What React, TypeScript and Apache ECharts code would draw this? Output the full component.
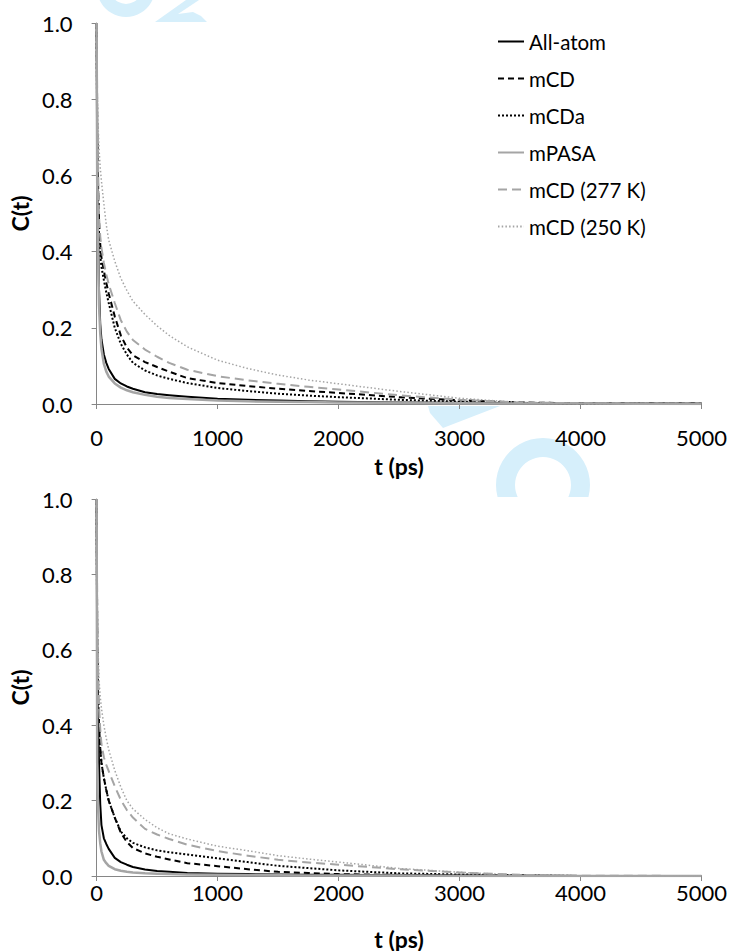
import React, { useEffect, useRef } from "react";
import * as echarts from "echarts";

// time points (ps)
const T = [0, 5, 10, 20, 30, 40, 60, 80, 100, 150, 200, 250, 300, 400, 500, 600, 750, 1000, 1250, 1500, 1750, 2000, 2500, 3000, 3500, 4000, 5000];

const SERIES_NAMES = ["All-atom", "mCD", "mCDa", "mPASA", "mCD (277 K)", "mCD (250 K)"];

// top panel
const allAtomTop = [1, 0.62, 0.5, 0.3, 0.21, 0.17, 0.13, 0.108, 0.092, 0.066, 0.054, 0.046, 0.04, 0.031, 0.026, 0.023, 0.019, 0.014, 0.011, 0.009, 0.007, 0.006, 0.004, 0.003, 0.002, 0.001, 0.001];
const mCDTop = [1, 0.72, 0.6, 0.48, 0.42, 0.385, 0.35, 0.318, 0.29, 0.23, 0.18, 0.148, 0.128, 0.11, 0.097, 0.085, 0.068, 0.055, 0.047, 0.04, 0.034, 0.029, 0.018, 0.01, 0.004, 0.002, 0.001];
const mCDaTop = [1, 0.7, 0.58, 0.45, 0.39, 0.36, 0.325, 0.293, 0.265, 0.2, 0.158, 0.13, 0.108, 0.088, 0.075, 0.066, 0.055, 0.042, 0.034, 0.027, 0.022, 0.018, 0.011, 0.006, 0.003, 0.001, 0];
const mPASATop = [1, 0.58, 0.45, 0.26, 0.185, 0.145, 0.105, 0.085, 0.072, 0.054, 0.043, 0.036, 0.031, 0.024, 0.019, 0.016, 0.013, 0.009, 0.007, 0.006, 0.005, 0.004, 0.003, 0.002, 0.001, 0.001, 0];
const mCD277Top = [1, 0.78, 0.65, 0.49, 0.44, 0.41, 0.37, 0.34, 0.315, 0.265, 0.22, 0.19, 0.168, 0.143, 0.124, 0.108, 0.09, 0.073, 0.062, 0.053, 0.045, 0.038, 0.023, 0.011, 0.004, 0.002, 0.001];
const mCD250Top = [1, 0.82, 0.75, 0.67, 0.62, 0.585, 0.525, 0.47, 0.43, 0.375, 0.33, 0.298, 0.27, 0.235, 0.205, 0.18, 0.15, 0.115, 0.093, 0.076, 0.063, 0.053, 0.033, 0.015, 0.004, 0.001, 0];

// bottom panel
const allAtomBot = [1, 0.55, 0.45, 0.3, 0.19, 0.135, 0.1, 0.085, 0.072, 0.048, 0.037, 0.03, 0.024, 0.017, 0.013, 0.011, 0.008, 0.006, 0.005, 0.004, 0.0035, 0.003, 0.002, 0.001, 0.001, 0, 0];
const mCDBot = [1, 0.62, 0.5, 0.4, 0.34, 0.3, 0.26, 0.228, 0.2, 0.155, 0.115, 0.09, 0.074, 0.06, 0.051, 0.044, 0.034, 0.026, 0.018, 0.011, 0.008, 0.005, 0.003, 0.001, 0, 0, 0];
const mCDaBot = [1, 0.62, 0.5, 0.4, 0.34, 0.3, 0.26, 0.228, 0.2, 0.155, 0.118, 0.1, 0.088, 0.076, 0.068, 0.063, 0.057, 0.047, 0.037, 0.027, 0.021, 0.015, 0.007, 0.004, 0.002, 0, 0];
const mPASABot = [1, 0.3, 0.2, 0.12, 0.087, 0.065, 0.043, 0.034, 0.027, 0.018, 0.014, 0.011, 0.009, 0.007, 0.006, 0.005, 0.004, 0.003, 0.0025, 0.002, 0.0015, 0.001, 0.001, 0, 0, 0, 0];
const mCD277Bot = [1, 0.7, 0.58, 0.45, 0.39, 0.35, 0.315, 0.295, 0.278, 0.238, 0.202, 0.175, 0.155, 0.125, 0.11, 0.098, 0.083, 0.066, 0.054, 0.043, 0.036, 0.03, 0.018, 0.009, 0.003, 0.001, 0];
const mCD250Bot = [1, 0.72, 0.62, 0.52, 0.475, 0.445, 0.4, 0.365, 0.335, 0.28, 0.236, 0.2, 0.178, 0.15, 0.128, 0.112, 0.098, 0.079, 0.067, 0.054, 0.045, 0.037, 0.02, 0.01, 0.002, 0, 0];

const X_TICKS = [0, 1000, 2000, 3000, 4000, 5000];
const Y_TICKS = [0, 0.2, 0.4, 0.6, 0.8, 1.0];

const FONT = "Lato";
const GRAY = "#a5a5a5";
const WM = "#d6effb";

const STYLES = [
  { color: "#000000", width: 2, type: "solid" as any },
  { color: "#000000", width: 2, type: [6, 4] as any },
  { color: "#000000", width: 2, type: [2, 2] as any },
  { color: GRAY, width: 2.5, type: "solid" as any },
  { color: GRAY, width: 2, type: [9, 5] as any },
  { color: GRAY, width: 1.5, type: [1.5, 2.2] as any },
];

function makeAxes(gridIndex: number, labelMargin: number, xNameGap: number) {
  const axisLine = { show: true, lineStyle: { color: "#868686", width: 1 } };
  const axisTick = { show: true, length: 5, lineStyle: { color: "#868686", width: 1 } };
  return {
    x: {
      type: "value",
      gridIndex,
      min: X_TICKS[0],
      max: X_TICKS[X_TICKS.length - 1],
      interval: X_TICKS[1] - X_TICKS[0],
      axisLine,
      axisTick,
      splitLine: { show: false },
      axisLabel: {
        color: "#000",
        fontFamily: FONT,
        fontSize: 22,
        margin: labelMargin,
        formatter: (v: number) => String(v),
      },
      name: "t (ps)",
      nameLocation: "middle",
      nameGap: xNameGap,
      nameTextStyle: { color: "#000", fontFamily: FONT, fontSize: 23, fontWeight: "bold" },
    },
    y: {
      type: "value",
      gridIndex,
      min: Y_TICKS[0],
      max: Y_TICKS[Y_TICKS.length - 1],
      interval: Y_TICKS[1] - Y_TICKS[0],
      axisLine,
      axisTick,
      splitLine: { show: false },
      axisLabel: {
        color: "#000",
        fontFamily: FONT,
        fontSize: 22,
        margin: 24,
        formatter: (v: number) => v.toFixed(1),
      },
      name: "C(t)",
      nameLocation: "middle",
      nameRotate: 90,
      nameGap: 34,
      nameTextStyle: { color: "#000", fontFamily: FONT, fontSize: 23, fontWeight: "bold" },
    },
  };
}

function makeSeries(gridIndex: number, arrays: number[][]) {
  return arrays.map((arr, i) => ({
    name: SERIES_NAMES[i],
    type: "line",
    xAxisIndex: gridIndex,
    yAxisIndex: gridIndex,
    data: T.map((t, k) => [t, arr[k]]),
    symbol: "none",
    smooth: false,
    lineStyle: { color: STYLES[i].color, width: STYLES[i].width, type: STYLES[i].type, cap: "butt", join: "round" },
    itemStyle: { color: STYLES[i].color },
    z: 2 + i,
  }));
}

export default function App() {
  const ref = useRef<HTMLDivElement>(null);
  useEffect(() => {
    if (!ref.current) return;
    const chart = echarts.init(ref.current, undefined, { renderer: "svg" });
    const a0 = makeAxes(0, 22, 50);
    const a1 = makeAxes(1, 5, 51);
    chart.setOption({
      animation: false,
      backgroundColor: "#ffffff",
      textStyle: { fontFamily: FONT },
      grid: [
        { left: 86, right: 26, top: 23, height: 381, containLabel: false },
        { left: 86, right: 26, top: 499, height: 379, containLabel: false },
      ],
      xAxis: [a0.x, a1.x],
      yAxis: [a0.y, a1.y],
      legend: {
        data: SERIES_NAMES,
        orient: "vertical",
        left: 497,
        top: 31,
        padding: 0,
        itemWidth: 26,
        itemHeight: 14,
        itemGap: 16,
        itemStyle: { opacity: 0 },
        textStyle: { color: "#000", fontFamily: FONT, fontSize: 20.5 },
      },
      graphic: [
        { type: "ring", z: 0, silent: true, shape: { cx: 126, cy: -12, r: 29, r0: 16 }, style: { fill: WM } },
        {
          type: "polygon",
          z: 0,
          silent: true,
          shape: { points: [[155, 22], [186, 0], [199, 0], [178, 14], [193, 12], [201, 16], [207, 22]] },
          style: { fill: WM },
        },
        {
          type: "polygon",
          z: 0,
          silent: true,
          shape: { points: [[428, 406], [500, 406], [443, 428], [430, 413]] },
          style: { fill: WM },
        },
        { type: "ring", z: 0, silent: true, shape: { cx: 543, cy: 485, r: 47, r0: 28 }, style: { fill: WM } },
        { type: "rect", z: 1, silent: true, shape: { x: 490, y: 497, width: 110, height: 40 }, style: { fill: "#ffffff" } },
      ],
      series: [
        ...makeSeries(0, [allAtomTop, mCDTop, mCDaTop, mPASATop, mCD277Top, mCD250Top]),
        ...makeSeries(1, [allAtomBot, mCDBot, mCDaBot, mPASABot, mCD277Bot, mCD250Bot]),
      ],
    });
    return () => chart.dispose();
  }, []);
  return (
    <div
      ref={ref}
      style={{ position: "absolute", left: 0, top: 0, width: 730, height: 951, background: "#fff" }}
    />
  );
}
